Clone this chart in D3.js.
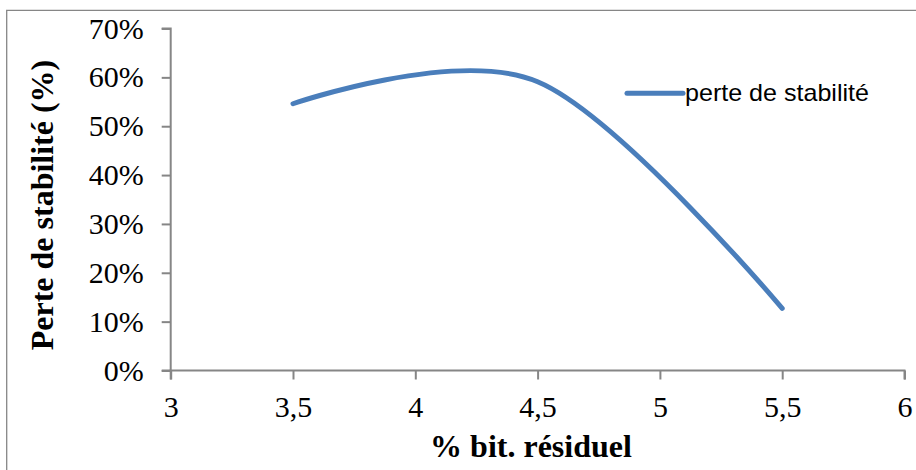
<!DOCTYPE html>
<html>
<head>
<meta charset="utf-8">
<script src="https://cdn.jsdelivr.net/npm/d3@7"></script>
<style>
  html, body { margin: 0; padding: 0; background: #fff; }
  svg { display: block; }
</style>
</head>
<body>
<svg id="chart" width="916" height="470"></svg>
<script>
// Residual bitumen content (%) vs. loss of stability
const bitumen = [3.5, 4.5, 5.5];
const perteStabilite = [0.546, 0.591, 0.127];
const xTicks = [3, 3.5, 4, 4.5, 5, 5.5, 6];
const yTicks = [0, 0.1, 0.2, 0.3, 0.4, 0.5, 0.6, 0.7];
const seriesName = "perte de stabilité";

const W = 916, H = 470;
const plot = { left: 170.7, right: 904.5, top: 28.5, bottom: 370.5 };
const axisColor = "#868686";
const lineColor = "#4a7ebb";
const serif = "Liberation Serif, Times New Roman, serif";

const svg = d3.select("#chart");

// outer chart frame (top and left edges visible)
svg.append("path")
  .attr("d", `M6.7,${H} V10.3 H${W}`)
  .attr("fill", "none")
  .attr("stroke", axisColor)
  .attr("stroke-width", 1.3);

const x = d3.scaleLinear().domain([3, 6]).range([plot.left, plot.right]);
const y = d3.scaleLinear().domain([0, 0.7]).range([plot.bottom, plot.top]);

const fmtX = d => String(d).replace(".", ",");
const fmtY = d => Math.round(d * 100) + "%";

// y axis
const gy = svg.append("g")
  .attr("transform", `translate(${plot.left},0)`)
  .call(d3.axisLeft(y).tickValues(yTicks).tickFormat(fmtY).tickSize(9).tickPadding(18));
// x axis
const gx = svg.append("g")
  .attr("transform", `translate(0,${plot.bottom})`)
  .call(d3.axisBottom(x).tickValues(xTicks).tickFormat(fmtX).tickSize(9).tickPadding(16));

[gx, gy].forEach(g => {
  g.attr("font-family", serif).attr("font-size", 30);
  g.select(".domain").attr("stroke", axisColor).attr("stroke-width", 2);
  g.selectAll(".tick line").attr("stroke", axisColor).attr("stroke-width", 2);
  g.selectAll(".tick text").attr("fill", "#000");
});
gy.select(".domain").attr("d", `M-9,${plot.top}H0V${plot.bottom}H-9`);
gx.select(".domain").attr("d", `M${plot.left},9V0H${plot.right}V9`);

// smoothed series line
const line = d3.line()
  .x((d, i) => x(bitumen[i]))
  .y(d => y(d))
  .curve(d3.curveCatmullRom.alpha(0));

svg.append("path")
  .datum(perteStabilite)
  .attr("d", line)
  .attr("fill", "none")
  .attr("stroke", lineColor)
  .attr("stroke-width", 5)
  .attr("stroke-linecap", "round")
  .attr("stroke-linejoin", "round");

// axis titles
svg.append("text")
  .attr("x", 531)
  .attr("y", 457)
  .attr("text-anchor", "middle")
  .attr("font-family", serif)
  .attr("font-weight", "bold")
  .attr("font-size", 32)
  .text("% bit. résiduel");

svg.append("text")
  .attr("transform", "translate(53,205) rotate(-90)")
  .attr("text-anchor", "middle")
  .attr("font-family", serif)
  .attr("font-weight", "bold")
  .attr("font-size", 32)
  .text("Perte de stabilité (%)");

// legend
const legend = svg.append("g").attr("transform", "translate(627,93.3)");
legend.append("line")
  .attr("x1", 0).attr("x2", 56)
  .attr("stroke", lineColor)
  .attr("stroke-width", 5)
  .attr("stroke-linecap", "round");
legend.append("text")
  .attr("x", 58)
  .attr("y", 8)
  .attr("font-family", "Liberation Sans, Arial, sans-serif")
  .attr("font-size", 24)
  .attr("textLength", 184)
  .attr("lengthAdjust", "spacingAndGlyphs")
  .attr("fill", "#000")
  .text(seriesName);
</script>
</body>
</html>
